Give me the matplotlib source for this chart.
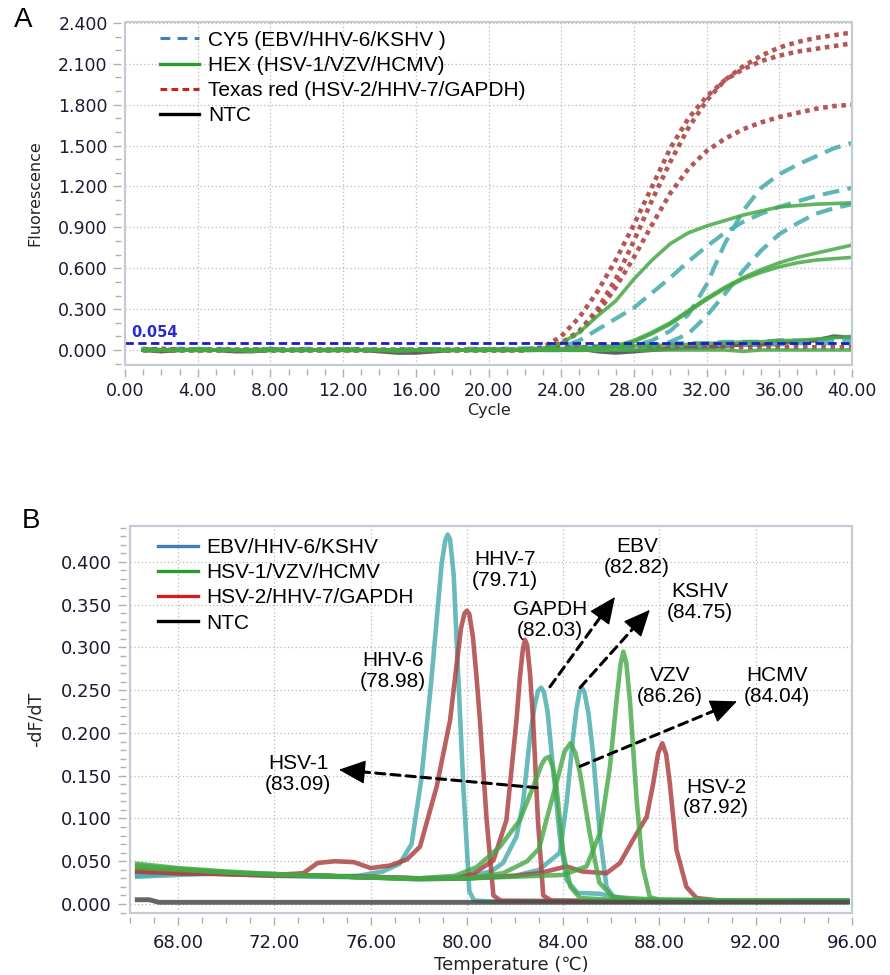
import matplotlib
matplotlib.use("Agg")
import matplotlib.pyplot as plt
from matplotlib.lines import Line2D
from matplotlib.patches import Rectangle
from matplotlib.ticker import MultipleLocator, FormatStrFormatter

# ── panel A: amplification curves, fluorescence per cycle ─────────────────
cycles = list(range(1, 41))

texas_red_curves = [
    [0.00, 0.01, 0.00, 0.00, 0.00, 0.00, 0.00, 0.00, 0.00, 0.00,
     0.00, 0.00, 0.00, 0.00, 0.00, 0.00, 0.00, 0.00, 0.00, 0.00,
     0.00, 0.00, 0.02, 0.10, 0.24, 0.43, 0.66, 0.92, 1.20, 1.48,
     1.70, 1.86, 1.98, 2.06, 2.12, 2.16, 2.19, 2.21, 2.23, 2.25],
    [0.00, 0.00, 0.00, 0.00, 0.00, 0.00, 0.00, 0.00, 0.00, 0.00,
     0.00, 0.00, 0.00, 0.00, 0.00, 0.00, 0.00, 0.00, 0.00, 0.00,
     0.00, 0.00, 0.01, 0.05, 0.14, 0.30, 0.52, 0.80, 1.10, 1.38,
     1.63, 1.83, 1.98, 2.08, 2.16, 2.22, 2.26, 2.29, 2.31, 2.33],
    [0.00, 0.00, 0.00, 0.00, 0.00, 0.00, 0.00, 0.00, 0.00, 0.00,
     0.00, 0.00, 0.00, 0.00, 0.00, 0.00, 0.00, 0.00, 0.00, 0.00,
     0.00, 0.00, 0.01, 0.05, 0.13, 0.27, 0.46, 0.68, 0.92, 1.15,
     1.33, 1.46, 1.55, 1.62, 1.67, 1.71, 1.74, 1.77, 1.79, 1.80],
    [0.00, 0.00, 0.00, 0.00, 0.00, 0.00, 0.00, 0.00, 0.00, 0.00,
     0.00, 0.00, 0.00, 0.00, 0.00, 0.00, 0.00, 0.00, 0.00, 0.00,
     0.00, 0.00, 0.01, 0.02, 0.02, 0.02, 0.03, 0.03, 0.02, 0.02,
     0.02, 0.02, 0.02, 0.02, 0.02, 0.02, 0.02, 0.02, 0.02, 0.02],
]

cy5_curves = [
    [0.00, 0.00, 0.00, 0.00, 0.00, 0.00, 0.00, 0.00, 0.00, 0.00,
     0.00, 0.00, 0.00, 0.00, 0.00, 0.00, 0.00, 0.00, 0.00, 0.00,
     0.00, 0.00, 0.00, 0.02, 0.07, 0.15, 0.23, 0.31, 0.42, 0.53,
     0.65, 0.76, 0.86, 0.94, 1.00, 1.05, 1.09, 1.13, 1.16, 1.19],
    [0.00, 0.00, 0.00, 0.00, 0.00, 0.00, 0.00, 0.00, 0.00, 0.00,
     0.00, 0.00, 0.00, 0.00, 0.00, 0.00, 0.00, 0.00, 0.00, 0.00,
     0.00, 0.00, 0.00, 0.00, 0.00, 0.00, 0.01, 0.03, 0.07, 0.14,
     0.26, 0.48, 0.78, 1.02, 1.19, 1.29, 1.36, 1.42, 1.48, 1.52],
    [0.00, 0.00, 0.00, 0.00, 0.00, 0.00, 0.00, 0.00, 0.00, 0.00,
     0.00, 0.00, 0.00, 0.00, 0.00, 0.00, 0.00, 0.00, 0.00, 0.00,
     0.00, 0.00, 0.00, 0.00, 0.00, 0.00, 0.00, 0.01, 0.03, 0.06,
     0.12, 0.25, 0.41, 0.58, 0.73, 0.85, 0.93, 1.00, 1.04, 1.07],
    [0.01, 0.00, 0.00, 0.00, 0.01, 0.00, 0.00, 0.00, 0.00, 0.01,
     0.00, 0.00, 0.00, 0.00, 0.00, 0.01, 0.00, 0.00, 0.00, 0.00,
     0.01, 0.01, 0.01, 0.01, 0.02, 0.02, 0.02, 0.02, 0.03, 0.03,
     0.03, 0.03, 0.04, 0.04, 0.04, 0.04, 0.05, 0.05, 0.05, 0.05],
    [0.00, 0.00, 0.01, 0.00, 0.00, 0.00, 0.00, 0.01, 0.00, 0.00,
     0.00, 0.00, 0.01, 0.00, 0.00, 0.00, 0.00, 0.00, 0.01, 0.00,
     0.00, 0.01, 0.01, 0.02, 0.02, 0.03, 0.03, 0.04, 0.04, 0.05,
     0.05, 0.05, 0.06, 0.06, 0.06, 0.07, 0.07, 0.07, 0.08, 0.08],
]

hex_curves = [
    [0.00, 0.00, 0.00, 0.00, 0.00, 0.00, 0.00, 0.00, 0.00, 0.00,
     0.00, 0.00, 0.00, 0.00, 0.00, 0.00, 0.00, 0.00, 0.00, 0.00,
     0.00, 0.00, 0.01, 0.05, 0.13, 0.25, 0.36, 0.52, 0.66, 0.78,
     0.86, 0.91, 0.95, 0.99, 1.02, 1.05, 1.06, 1.07, 1.075, 1.08],
    [0.00, 0.00, 0.00, 0.00, 0.00, 0.00, 0.00, 0.00, 0.00, 0.00,
     0.00, 0.00, 0.00, 0.00, 0.00, 0.00, 0.00, 0.00, 0.00, 0.00,
     0.00, 0.00, 0.00, 0.00, 0.00, 0.01, 0.03, 0.07, 0.13, 0.20,
     0.29, 0.38, 0.46, 0.53, 0.59, 0.64, 0.68, 0.71, 0.74, 0.77],
    [0.00, 0.00, 0.00, 0.00, 0.00, 0.00, 0.00, 0.00, 0.00, 0.00,
     0.00, 0.00, 0.00, 0.00, 0.00, 0.00, 0.00, 0.00, 0.00, 0.00,
     0.00, 0.00, 0.00, 0.00, 0.00, 0.01, 0.03, 0.06, 0.12, 0.19,
     0.28, 0.37, 0.45, 0.52, 0.57, 0.61, 0.64, 0.66, 0.67, 0.68],
    [0.01, 0.00, 0.00, 0.01, 0.00, 0.00, 0.00, 0.01, 0.00, 0.00,
     0.00, 0.01, 0.00, 0.00, 0.00, 0.00, 0.01, 0.00, 0.00, 0.01,
     0.00, 0.01, 0.01, 0.01, 0.02, 0.02, 0.02, 0.03, 0.03, 0.04,
     0.04, 0.05, 0.05, 0.06, 0.06, 0.07, 0.07, 0.08, 0.09, 0.10],
    [0.00, 0.00, 0.00, 0.00, 0.00, 0.00, -0.01, 0.00, 0.00, 0.00,
     0.00, 0.00, 0.00, 0.00, -0.01, 0.00, 0.00, 0.00, 0.00, 0.00,
     0.00, 0.00, 0.00, 0.00, 0.00, 0.00, 0.00, 0.00, 0.00, 0.00,
     0.00, 0.00, 0.00, -0.01, 0.00, 0.00, 0.00, 0.00, 0.00, 0.00],
]

ntc_amp = [0.00, -0.01, 0.00, 0.00, 0.00, -0.01, -0.01, 0.00, 0.00, 0.00,
           0.00, 0.00, 0.00, -0.01, -0.02, -0.02, -0.01, 0.00, 0.00, 0.00,
           0.00, 0.00, 0.00, 0.00, 0.01, -0.01, -0.02, -0.01, 0.00, 0.01,
           0.02, 0.02, 0.03, 0.04, 0.04, 0.05, 0.06, 0.07, 0.10, 0.09]

threshold = 0.054

# ── panel B: melt curves, -dF/dT per temperature ───────────────────────────
# (temperature points, values) per target
ebv_hhv6_kshv_melt = {
    "HHV-6": ([66.3, 68, 70, 72, 74, 75.5, 76.5, 77.2, 77.7, 78.1, 78.5, 78.8,
               78.95, 79.1, 79.2, 79.3, 79.45, 79.6, 79.85, 80.1, 80.3, 81, 84,
               88, 92, 95.8],
              [0.033, 0.036, 0.037, 0.034, 0.032, 0.033, 0.038, 0.047, 0.070,
               0.145, 0.255, 0.350, 0.398, 0.425, 0.432, 0.426, 0.385, 0.290,
               0.137, 0.015, 0.004, 0.003, 0.004, 0.004, 0.003, 0.004]),
    "EBV": ([66.3, 68, 70, 72, 74, 76, 78, 80, 81.0, 81.5, 82.06, 82.33,
             82.62, 82.8, 82.95, 83.08, 83.2, 83.35, 83.52, 83.86, 84.14, 84.6,
             85.5, 86.3, 87, 90, 95.8],
            [0.032, 0.034, 0.036, 0.035, 0.033, 0.031, 0.030, 0.032, 0.038,
             0.048, 0.079, 0.118, 0.195, 0.230, 0.249, 0.253, 0.248, 0.225,
             0.176, 0.079, 0.028, 0.013, 0.012, 0.008, 0.004, 0.003, 0.003]),
    "KSHV": ([66.3, 68, 70, 72, 74, 76, 78, 80, 82, 83, 83.86, 84.14, 84.41,
              84.55, 84.68, 84.77, 84.88, 85.05, 85.24, 85.53, 85.8, 86.1, 86.5,
              88, 92, 95.8],
             [0.034, 0.036, 0.035, 0.033, 0.032, 0.031, 0.029, 0.030, 0.033,
              0.040, 0.060, 0.118, 0.195, 0.228, 0.248, 0.253, 0.248, 0.223,
              0.176, 0.079, 0.020, 0.008, 0.004, 0.003, 0.003, 0.003]),
}

hsv1_vzv_hcmv_melt = {
    "HSV-1": ([66.3, 68, 70, 72, 74, 76, 78, 79.5, 80.4, 81.37, 82.2, 82.75,
               83.1, 83.25, 83.41, 83.55, 83.72, 84.0, 84.3, 84.7, 86, 90, 95.8],
              [0.047, 0.042, 0.038, 0.035, 0.033, 0.031, 0.030, 0.033, 0.043,
               0.067, 0.098, 0.137, 0.163, 0.170, 0.172, 0.162, 0.137, 0.060,
               0.020, 0.007, 0.005, 0.004, 0.004]),
    "HCMV": ([66.3, 68, 70, 72, 74, 76, 78, 80, 81.5, 82.5, 83.0, 83.3, 83.8,
              84.05, 84.3, 84.5, 84.7, 85.1, 85.5, 86.07, 88, 92, 95.8],
             [0.042, 0.040, 0.037, 0.034, 0.033, 0.031, 0.029, 0.030, 0.036,
              0.050, 0.065, 0.098, 0.150, 0.178, 0.188, 0.177, 0.153, 0.083,
              0.025, 0.008, 0.005, 0.004, 0.004]),
    "VZV": ([66.3, 68, 70, 72, 74, 76, 78, 80, 82, 84, 84.97, 85.53, 85.94,
             86.22, 86.38, 86.5, 86.62, 86.77, 87.05, 87.3, 87.6, 88, 92, 95.8],
            [0.045, 0.041, 0.037, 0.035, 0.033, 0.031, 0.030, 0.030, 0.032,
             0.034, 0.044, 0.083, 0.160, 0.239, 0.280, 0.295, 0.282, 0.239,
             0.122, 0.044, 0.008, 0.005, 0.004, 0.004]),
}

hsv2_hhv7_gapdh_melt = {
    "HHV-7": ([66.3, 68, 70, 72, 73.2, 73.8, 74.5, 75.3, 76.0, 76.8, 77.5,
               78.05, 78.74, 79.3, 79.55, 79.75, 79.9, 80.0, 80.1, 80.25, 80.4,
               80.54, 80.82, 81.1, 81.4, 84, 88, 92, 95.8],
              [0.038, 0.036, 0.036, 0.034, 0.036, 0.048, 0.050, 0.049, 0.042,
               0.045, 0.052, 0.067, 0.137, 0.215, 0.275, 0.322, 0.340, 0.343,
               0.339, 0.312, 0.265, 0.215, 0.098, 0.010, 0.004, 0.003, 0.003,
               0.003, 0.003]),
    "GAPDH": ([66.3, 68, 70, 72, 74, 76, 78, 79.5, 80.3, 81.1, 81.64, 82.06,
               82.2, 82.32, 82.41, 82.5, 82.62, 82.75, 82.95, 83.17, 83.5, 86,
               90, 95.8],
              [0.040, 0.037, 0.035, 0.033, 0.033, 0.032, 0.030, 0.030, 0.036,
               0.051, 0.098, 0.215, 0.265, 0.297, 0.309, 0.303, 0.270, 0.215,
               0.098, 0.010, 0.004, 0.003, 0.003, 0.003]),
    "HSV-2": ([66.3, 68, 70, 72, 74, 76, 78, 80, 82, 83.0, 84.14, 84.8, 85.8,
               86.36, 86.9, 87.47, 87.74, 87.95, 88.12, 88.28, 88.43, 88.71,
               89.12, 89.54, 90.5, 93, 95.8],
              [0.038, 0.036, 0.035, 0.034, 0.033, 0.031, 0.030, 0.030, 0.033,
               0.036, 0.044, 0.038, 0.036, 0.048, 0.075, 0.102, 0.141, 0.177,
               0.188, 0.175, 0.141, 0.063, 0.020, 0.007, 0.004, 0.003, 0.003]),
}

ntc_melt_temp = [66.3, 66.8, 67.2, 70, 80, 90, 95.8]
ntc_melt_vals = [0.005, 0.005, 0.002, 0.002, 0.002, 0.002, 0.002]

# peak labels: text, text centre (T, value), arrow tail, arrow head
peak_labels = [
    ("HHV-6\n(78.98)", (76.93, 0.2725), None, None),
    ("HHV-7\n(79.71)", (81.58, 0.3906), None, None),
    ("EBV\n(82.82)", (87.06, 0.4058), (83.45, 0.254), (86.15, 0.359)),
    ("GAPDH\n(82.03)", (83.45, 0.332), None, None),
    ("KSHV\n(84.75)", (89.68, 0.353), (84.70, 0.253), (87.60, 0.344)),
    ("VZV\n(86.26)", (88.43, 0.255), None, None),
    ("HCMV\n(84.04)", (92.88, 0.255), (84.70, 0.161), (91.22, 0.237)),
    ("HSV-1\n(83.09)", (72.98, 0.152), (82.91, 0.136), (74.68, 0.157)),
    ("HSV-2\n(87.92)", (90.35, 0.1246), None, None),
]

# ── styling ───────────────────────────────────────────────────────────────
FRAME = "#c5cad3"
GRID = "#b8b8b8"
TICK = "#b0b0b0"
LABEL = "#1a1a33"
SANS = "Liberation Sans"

TEAL = "#4eaeb0"
RED = "#ad4545"
GREEN = "#45a845"


def style_axes(ax, tick_fs, xpad, ypad):
    for s in ax.spines.values():
        s.set_visible(False)
    ax.spines["left"].set_position(("outward", 3))
    ax.spines["bottom"].set_position(("outward", 3))
    ax.add_patch(Rectangle((0, 0), 1, 1, transform=ax.transAxes, fill=False,
                           ec=FRAME, lw=1.6, clip_on=False, zorder=20))
    ax.grid(which="major", color=GRID, ls=(0, (1, 2)), lw=0.9)
    ax.set_axisbelow(True)
    ax.tick_params(which="both", direction="out", color=TICK, width=1,
                   labelsize=tick_fs, labelcolor=LABEL)
    ax.tick_params(which="major", length=6)
    ax.tick_params(which="minor", length=4)
    ax.tick_params(axis="x", which="major", pad=xpad)
    ax.tick_params(axis="y", which="major", pad=ypad)


fig = plt.figure(figsize=(8.9, 9.75), dpi=100)
ax1 = fig.add_axes([125 / 890, 1 - 365 / 975, 727 / 890, 343 / 975])
ax2 = fig.add_axes([130 / 890, 1 - 913 / 975, 722 / 890, 387 / 975])

# ── panel A ──
style_axes(ax1, 12.5, 3.5, 3.5)
for vals in cy5_curves:
    ax1.plot(cycles, vals, color=TEAL, lw=3, ls=(0, (4, 2)), alpha=0.9, zorder=3)
for vals in hex_curves:
    ax1.plot(cycles, vals, color=GREEN, lw=2.6, alpha=0.85, zorder=4)
for vals in texas_red_curves:
    ax1.plot(cycles, vals, color=RED, lw=3.3, ls=(0, (1, 1)), alpha=0.9, zorder=3)
ax1.plot(cycles, ntc_amp, color="#3a3a3a", lw=3, alpha=0.8, zorder=2)
ax1.axhline(threshold, color="#1c1cc8", lw=2, ls=(0, (3, 1.6)), zorder=6)
ax1.text(0.35, 0.13, "{:.3f}".format(threshold), color="#2a2acf", fontsize=10.5,
         fontweight="bold", va="center", ha="left")

ax1.set_xlim(0, 40)
ax1.set_ylim(-0.11, 2.407)
ax1.xaxis.set_major_locator(MultipleLocator(4))
ax1.xaxis.set_minor_locator(MultipleLocator(1))
ax1.yaxis.set_major_locator(MultipleLocator(0.3))
ax1.yaxis.set_minor_locator(MultipleLocator(0.1))
ax1.xaxis.set_major_formatter(FormatStrFormatter("%.2f"))
ax1.yaxis.set_major_formatter(FormatStrFormatter("%.3f"))
ax1.set_xlabel("Cycle", fontsize=11.5, color="#222222")
ax1.set_ylabel("Fluorescence", fontsize=11.5, color="#222222")
ax1.xaxis.set_label_coords(0.5, -0.111)
ax1.yaxis.set_label_coords(-0.113, 0.5)

handles_a = [
    Line2D([], [], color="#3d7fc4", lw=2.2, ls=(0, (3.2, 2.4))),
    Line2D([], [], color="#2a9a2a", lw=2.4),
    Line2D([], [], color="#cc1f1f", lw=2.2, ls=(0, (2.2, 1.4))),
    Line2D([], [], color="black", lw=2.4),
]
labels_a = ["CY5 (EBV/HHV-6/KSHV )", "HEX (HSV-1/VZV/HCMV)",
            "Texas red (HSV-2/HHV-7/GAPDH)", "NTC"]
ax1.legend(handles_a, labels_a, loc="upper left", bbox_to_anchor=(0.048, 0.975),
           frameon=False, prop=dict(family=SANS, size=15), handlelength=1.9,
           handletextpad=0.4, labelspacing=0.3, borderpad=0, borderaxespad=0)

# ── panel B ──
style_axes(ax2, 13, 6, 4)
for temp, vals in ebv_hhv6_kshv_melt.values():
    ax2.plot(temp, vals, color=TEAL, lw=3.3, alpha=0.85, zorder=3)
for temp, vals in hsv2_hhv7_gapdh_melt.values():
    ax2.plot(temp, vals, color=RED, lw=3.3, alpha=0.85, zorder=3)
for temp, vals in hsv1_vzv_hcmv_melt.values():
    ax2.plot(temp, vals, color=GREEN, lw=3.3, alpha=0.8, zorder=4)
ax2.plot(ntc_melt_temp, ntc_melt_vals, color="#4a4a4a", lw=3.5, alpha=0.85, zorder=5)

for text, pos, tail, head in peak_labels:
    ax2.text(pos[0], pos[1], text, ha="center", va="center", fontsize=15,
             family=SANS, linespacing=1.1, zorder=8)
    if tail is not None:
        # dashed shaft, then a solid filled head on the last stretch
        ax2.annotate("", xy=head, xytext=tail, zorder=8,
                     arrowprops=dict(arrowstyle="-", color="black", lw=2.2,
                                     ls=(0, (3, 2)), shrinkA=0, shrinkB=8))
        near = (tail[0] + 0.96 * (head[0] - tail[0]),
                tail[1] + 0.96 * (head[1] - tail[1]))
        ax2.annotate("", xy=head, xytext=near, zorder=9,
                     arrowprops=dict(arrowstyle="-|>,head_length=0.85,head_width=0.38",
                                     color="black", lw=1, mutation_scale=20,
                                     shrinkA=0, shrinkB=0))

ax2.set_xlim(66, 96)
ax2.set_ylim(-0.0105, 0.442)
ax2.xaxis.set_major_locator(MultipleLocator(4))
ax2.xaxis.set_minor_locator(MultipleLocator(1))
ax2.yaxis.set_major_locator(MultipleLocator(0.05))
ax2.yaxis.set_minor_locator(MultipleLocator(0.01))
ax2.xaxis.set_major_formatter(FormatStrFormatter("%.2f"))
ax2.yaxis.set_major_formatter(FormatStrFormatter("%.3f"))
ax2.set_xlabel("Temperature (\u2103)", fontsize=13, color="#222222")
ax2.set_ylabel("-dF/dT", fontsize=12.5, color="#222222")
ax2.xaxis.set_label_coords(0.528, -0.111)
ax2.yaxis.set_label_coords(-0.118, 0.5)

handles_b = [
    Line2D([], [], color="#3d7fc4", lw=2.4),
    Line2D([], [], color="#2a9a2a", lw=2.4),
    Line2D([], [], color="#cc1f1f", lw=2.4),
    Line2D([], [], color="black", lw=2.4),
]
labels_b = ["EBV/HHV-6/KSHV", "HSV-1/VZV/HCMV", "HSV-2/HHV-7/GAPDH", "NTC"]
ax2.legend(handles_b, labels_b, loc="upper left", bbox_to_anchor=(0.039, 0.969),
           frameon=False, prop=dict(family=SANS, size=15), handlelength=1.9,
           handletextpad=0.4, labelspacing=0.3, borderpad=0, borderaxespad=0)

fig.text(23 / 890, 1 - 20 / 975, "A", fontsize=20, family=SANS, ha="center", va="center")
fig.text(31 / 890, 1 - 521 / 975, "B", fontsize=20, family=SANS, ha="center", va="center")

fig.savefig("out.png", dpi=100)
plt.close(fig)
